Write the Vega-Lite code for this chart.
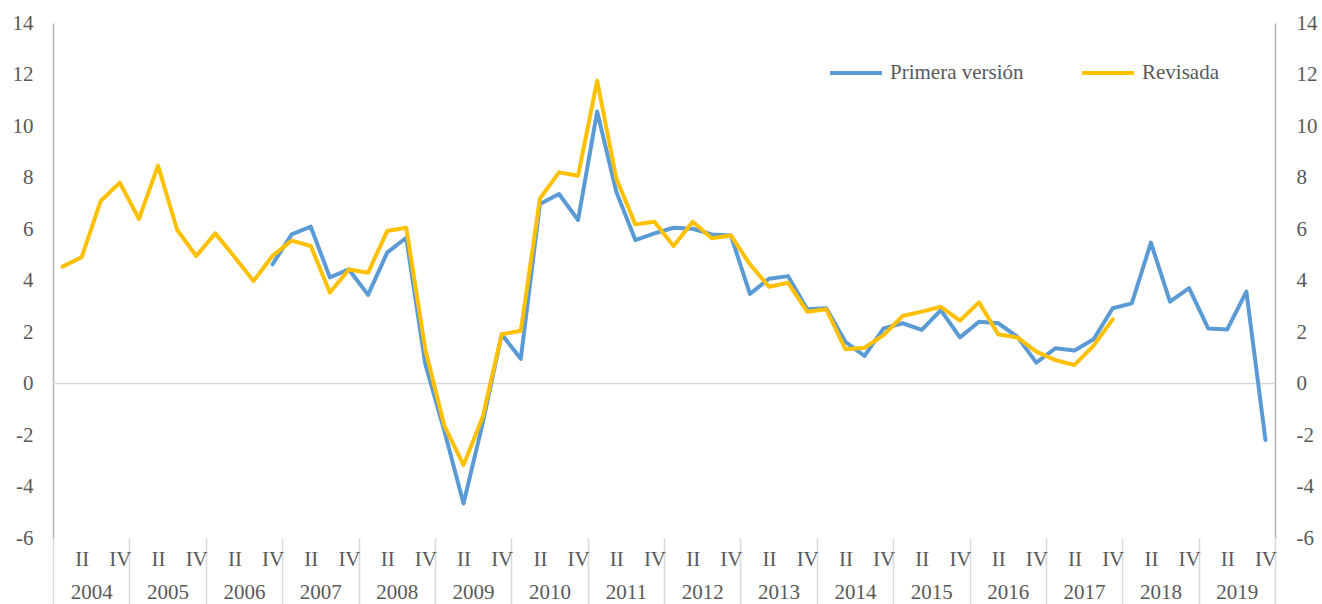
{
  "$schema": "https://vega.github.io/schema/vega-lite/v6.json",
  "width": 1222,
  "height": 515,
  "autosize": {"type": "none"},
  "padding": {"left": 53, "top": 23, "right": 47, "bottom": 66},
  "background": "white",
  "config": {
    "view": {"stroke": null},
    "font": "Liberation Serif",
    "axis": {
      "labelFont": "Liberation Serif",
      "labelFontSize": 21,
      "labelColor": "#595959",
      "grid": false,
      "title": null,
      "labelFlush": false,
      "labelOverlap": false,
      "labelBound": false
    }
  },
  "datasets": {
    "zero": [{"v": 0, "start": 0.5, "end": 64.5}],
    "series": [
      {"p": 1, "v": 4.54, "s": "Revisada"},
      {"p": 2, "v": 4.90, "s": "Revisada"},
      {"p": 3, "v": 7.09, "s": "Revisada"},
      {"p": 4, "v": 7.80, "s": "Revisada"},
      {"p": 5, "v": 6.39, "s": "Revisada"},
      {"p": 6, "v": 8.46, "s": "Revisada"},
      {"p": 7, "v": 5.97, "s": "Revisada"},
      {"p": 8, "v": 4.95, "s": "Revisada"},
      {"p": 9, "v": 5.83, "s": "Revisada"},
      {"p": 10, "v": 4.92, "s": "Revisada"},
      {"p": 11, "v": 3.98, "s": "Revisada"},
      {"p": 12, "v": 4.96, "s": "Revisada"},
      {"p": 13, "v": 5.55, "s": "Revisada"},
      {"p": 14, "v": 5.34, "s": "Revisada"},
      {"p": 15, "v": 3.53, "s": "Revisada"},
      {"p": 16, "v": 4.43, "s": "Revisada"},
      {"p": 17, "v": 4.30, "s": "Revisada"},
      {"p": 18, "v": 5.92, "s": "Revisada"},
      {"p": 19, "v": 6.05, "s": "Revisada"},
      {"p": 20, "v": 1.32, "s": "Revisada"},
      {"p": 21, "v": -1.65, "s": "Revisada"},
      {"p": 22, "v": -3.17, "s": "Revisada"},
      {"p": 23, "v": -1.31, "s": "Revisada"},
      {"p": 24, "v": 1.91, "s": "Revisada"},
      {"p": 25, "v": 2.05, "s": "Revisada"},
      {"p": 26, "v": 7.18, "s": "Revisada"},
      {"p": 27, "v": 8.20, "s": "Revisada"},
      {"p": 28, "v": 8.07, "s": "Revisada"},
      {"p": 29, "v": 11.76, "s": "Revisada"},
      {"p": 30, "v": 7.97, "s": "Revisada"},
      {"p": 31, "v": 6.18, "s": "Revisada"},
      {"p": 32, "v": 6.28, "s": "Revisada"},
      {"p": 33, "v": 5.34, "s": "Revisada"},
      {"p": 34, "v": 6.28, "s": "Revisada"},
      {"p": 35, "v": 5.64, "s": "Revisada"},
      {"p": 36, "v": 5.75, "s": "Revisada"},
      {"p": 37, "v": 4.63, "s": "Revisada"},
      {"p": 38, "v": 3.76, "s": "Revisada"},
      {"p": 39, "v": 3.91, "s": "Revisada"},
      {"p": 40, "v": 2.79, "s": "Revisada"},
      {"p": 41, "v": 2.88, "s": "Revisada"},
      {"p": 42, "v": 1.33, "s": "Revisada"},
      {"p": 43, "v": 1.39, "s": "Revisada"},
      {"p": 44, "v": 1.88, "s": "Revisada"},
      {"p": 45, "v": 2.62, "s": "Revisada"},
      {"p": 46, "v": 2.79, "s": "Revisada"},
      {"p": 47, "v": 2.98, "s": "Revisada"},
      {"p": 48, "v": 2.44, "s": "Revisada"},
      {"p": 49, "v": 3.15, "s": "Revisada"},
      {"p": 50, "v": 1.91, "s": "Revisada"},
      {"p": 51, "v": 1.79, "s": "Revisada"},
      {"p": 52, "v": 1.24, "s": "Revisada"},
      {"p": 53, "v": 0.91, "s": "Revisada"},
      {"p": 54, "v": 0.72, "s": "Revisada"},
      {"p": 55, "v": 1.47, "s": "Revisada"},
      {"p": 56, "v": 2.49, "s": "Revisada"},
      {"p": 12, "v": 4.63, "s": "Primera versión"},
      {"p": 13, "v": 5.79, "s": "Primera versión"},
      {"p": 14, "v": 6.09, "s": "Primera versión"},
      {"p": 15, "v": 4.12, "s": "Primera versión"},
      {"p": 16, "v": 4.43, "s": "Primera versión"},
      {"p": 17, "v": 3.44, "s": "Primera versión"},
      {"p": 18, "v": 5.08, "s": "Primera versión"},
      {"p": 19, "v": 5.66, "s": "Primera versión"},
      {"p": 20, "v": 0.75, "s": "Primera versión"},
      {"p": 21, "v": -1.85, "s": "Primera versión"},
      {"p": 22, "v": -4.66, "s": "Primera versión"},
      {"p": 23, "v": -1.55, "s": "Primera versión"},
      {"p": 24, "v": 1.91, "s": "Primera versión"},
      {"p": 25, "v": 0.96, "s": "Primera versión"},
      {"p": 26, "v": 6.97, "s": "Primera versión"},
      {"p": 27, "v": 7.36, "s": "Primera versión"},
      {"p": 28, "v": 6.35, "s": "Primera versión"},
      {"p": 29, "v": 10.56, "s": "Primera versión"},
      {"p": 30, "v": 7.45, "s": "Primera versión"},
      {"p": 31, "v": 5.57, "s": "Primera versión"},
      {"p": 32, "v": 5.83, "s": "Primera versión"},
      {"p": 33, "v": 6.05, "s": "Primera versión"},
      {"p": 34, "v": 6.01, "s": "Primera versión"},
      {"p": 35, "v": 5.79, "s": "Primera versión"},
      {"p": 36, "v": 5.75, "s": "Primera versión"},
      {"p": 37, "v": 3.48, "s": "Primera versión"},
      {"p": 38, "v": 4.07, "s": "Primera versión"},
      {"p": 39, "v": 4.17, "s": "Primera versión"},
      {"p": 40, "v": 2.88, "s": "Primera versión"},
      {"p": 41, "v": 2.92, "s": "Primera versión"},
      {"p": 42, "v": 1.62, "s": "Primera versión"},
      {"p": 43, "v": 1.07, "s": "Primera versión"},
      {"p": 44, "v": 2.14, "s": "Primera versión"},
      {"p": 45, "v": 2.34, "s": "Primera versión"},
      {"p": 46, "v": 2.08, "s": "Primera versión"},
      {"p": 47, "v": 2.85, "s": "Primera versión"},
      {"p": 48, "v": 1.79, "s": "Primera versión"},
      {"p": 49, "v": 2.40, "s": "Primera versión"},
      {"p": 50, "v": 2.34, "s": "Primera versión"},
      {"p": 51, "v": 1.82, "s": "Primera versión"},
      {"p": 52, "v": 0.81, "s": "Primera versión"},
      {"p": 53, "v": 1.37, "s": "Primera versión"},
      {"p": 54, "v": 1.28, "s": "Primera versión"},
      {"p": 55, "v": 1.72, "s": "Primera versión"},
      {"p": 56, "v": 2.92, "s": "Primera versión"},
      {"p": 57, "v": 3.11, "s": "Primera versión"},
      {"p": 58, "v": 5.47, "s": "Primera versión"},
      {"p": 59, "v": 3.18, "s": "Primera versión"},
      {"p": 60, "v": 3.70, "s": "Primera versión"},
      {"p": 61, "v": 2.14, "s": "Primera versión"},
      {"p": 62, "v": 2.10, "s": "Primera versión"},
      {"p": 63, "v": 3.57, "s": "Primera versión"},
      {"p": 64, "v": -2.19, "s": "Primera versión"}
    ]
  },
  "layer": [
    {
      "data": {"name": "zero"},
      "mark": {"type": "rule", "color": "#d9d9d9", "strokeWidth": 1.5},
      "encoding": {
        "x": {
          "field": "start", "type": "quantitative",
          "scale": {"domain": [0.5, 64.5], "nice": false, "zero": false},
          "axis": {
            "orient": "bottom",
            "values": [2.5, 6.5, 10.5, 14.5, 18.5, 22.5, 26.5, 30.5, 34.5, 38.5, 42.5, 46.5, 50.5, 54.5, 58.5, 62.5],
            "labelExpr": "'' + (2004 + floor((datum.value - 0.5) / 4))",
            "labelFont": "Liberation Serif", "labelFontSize": 21, "labelColor": "#595959",
            "domain": false, "ticks": false, "tickSize": 0,
            "labelPadding": 60, "labelBaseline": "alphabetic", "labelAlign": "center"
          }
        },
        "x2": {"field": "end"},
        "y": {
          "field": "v", "type": "quantitative",
          "scale": {"domain": [-6, 14], "nice": false, "zero": false},
          "axis": {
            "orient": "left",
            "values": [-6, -4, -2, 0, 2, 4, 6, 8, 10, 12, 14],
            "labelExpr": "'' + datum.value",
            "labelFont": "Liberation Serif", "labelFontSize": 21, "labelColor": "#595959",
            "domain": true, "domainColor": "#b5b5b5", "domainWidth": 1.5,
            "ticks": false, "tickSize": 0, "labelPadding": 20
          }
        }
      }
    },
    {
      "data": {"name": "series"},
      "transform": [{"filter": "datum.s == 'Primera versión'"}],
      "mark": {"type": "line", "strokeWidth": 4, "strokeJoin": "round", "strokeCap": "round"},
      "encoding": {
        "x": {
          "field": "p", "type": "quantitative",
          "scale": {"domain": [0.5, 64.5], "nice": false, "zero": false},
          "axis": {
            "orient": "bottom",
            "values": [0.5, 4.5, 8.5, 12.5, 16.5, 20.5, 24.5, 28.5, 32.5, 36.5, 40.5, 44.5, 48.5, 52.5, 56.5, 60.5, 64.5],
            "labels": false, "domain": false, "ticks": true, "tickSize": 66,
            "tickColor": "#d9d9d9", "tickWidth": 1.5
          }
        },
        "y": {
          "field": "v", "type": "quantitative",
          "scale": {"domain": [-6, 14], "nice": false, "zero": false},
          "axis": {
            "orient": "right",
            "values": [-6, -4, -2, 0, 2, 4, 6, 8, 10, 12, 14],
            "labelExpr": "'' + datum.value",
            "labelFont": "Liberation Serif", "labelFontSize": 21, "labelColor": "#595959",
            "domain": true, "domainColor": "#b5b5b5", "domainWidth": 1.5,
            "ticks": false, "tickSize": 0, "labelPadding": 21
          }
        },
        "color": {
          "field": "s", "type": "nominal",
          "scale": {"domain": ["Primera versión", "Revisada"], "range": ["#5B9BD5", "#FFC000"]},
          "legend": {
            "orient": "none", "legendX": 775, "legendY": 22, "direction": "horizontal", "columns": 2,
            "title": null, "symbolType": "stroke", "symbolSize": 2704, "symbolStrokeWidth": 4,
            "labelFont": "Liberation Serif", "labelFontSize": 21, "labelColor": "#595959",
            "labelOffset": 6, "columnPadding": 50, "labelLimit": 300, "padding": 0
          }
        }
      }
    },
    {
      "data": {"name": "series"},
      "transform": [{"filter": "datum.s == 'Revisada'"}],
      "mark": {"type": "line", "strokeWidth": 4, "strokeJoin": "round", "strokeCap": "round"},
      "encoding": {
        "x": {
          "field": "p", "type": "quantitative",
          "scale": {"domain": [0.5, 64.5], "nice": false, "zero": false},
          "axis": {
            "orient": "bottom",
            "values": [2, 4, 6, 8, 10, 12, 14, 16, 18, 20, 22, 24, 26, 28, 30, 32, 34, 36, 38, 40, 42, 44, 46, 48, 50, 52, 54, 56, 58, 60, 62, 64],
            "labelExpr": "datum.value % 4 == 2 ? 'II' : 'IV'",
            "labelFont": "Liberation Serif", "labelFontSize": 21, "labelColor": "#595959",
            "domain": false, "ticks": false, "tickSize": 0,
            "labelPadding": 27, "labelBaseline": "alphabetic", "labelAlign": "center"
          }
        },
        "y": {
          "field": "v", "type": "quantitative",
          "scale": {"domain": [-6, 14], "nice": false, "zero": false},
          "axis": null
        },
        "color": {
          "field": "s", "type": "nominal",
          "scale": {"domain": ["Primera versión", "Revisada"], "range": ["#5B9BD5", "#FFC000"]},
          "legend": {
            "orient": "none", "legendX": 775, "legendY": 22, "direction": "horizontal", "columns": 2,
            "title": null, "symbolType": "stroke", "symbolSize": 2704, "symbolStrokeWidth": 4,
            "labelFont": "Liberation Serif", "labelFontSize": 21, "labelColor": "#595959",
            "labelOffset": 6, "columnPadding": 50, "labelLimit": 300, "padding": 0
          }
        }
      }
    }
  ],
  "resolve": {"axis": {"x": "independent", "y": "independent"}}
}
